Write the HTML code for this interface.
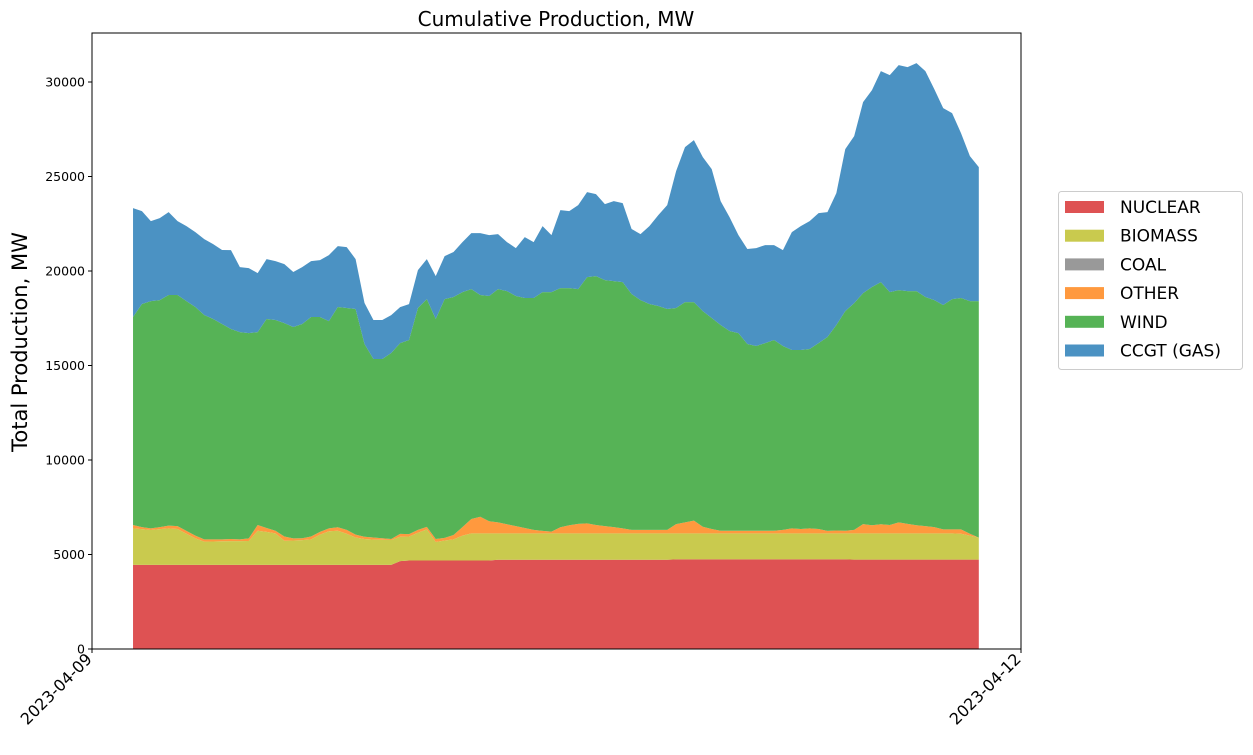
<!DOCTYPE html>
<html><head><meta charset="utf-8"><style>
body{margin:0;background:#fff;}
svg text{font-family:"DejaVu Sans","Liberation Sans",sans-serif;fill:#000;}
</style></head><body>
<svg id="chart" width="1253" height="750" xmlns="http://www.w3.org/2000/svg">
<text x="556" y="26" font-size="20" text-anchor="middle">Cumulative Production, MW</text>
<text transform="translate(27,342) rotate(-90)" font-size="21" text-anchor="middle">Total Production, MW</text>
<g id="areas"></g>
<rect x="92" y="33" width="929" height="616" fill="none" stroke="#000" stroke-width="1"/>
<g id="yticks"></g>
<g id="xticks"></g>
<g>
<rect x="1058.5" y="191.5" width="184" height="178" rx="3" fill="#fff" stroke="#ccc"/>
<g id="legend-items"></g>
</g>
</svg>
<script>
const seriesNames=["NUCLEAR","BIOMASS","COAL","OTHER","WIND","CCGT (GAS)"];
const seriesColors=["#de5253","#c9ca4e","#999999","#ff993e","#56b356","#4b92c3"];
const yTicks=[0,5000,10000,15000,20000,25000,30000];
const xTickLabels=["2023-04-09","2023-04-12"];
const xTickHours=[0,72];
const startHour=3.18, stepHour=0.69;
const nuclear=[4450,4450,4450,4450,4450,4450,4450,4450,4450,4450,4450,4450,4450,4450,4450,4450,4450,4450,4450,4450,4450,4450,4450,4450,4450,4450,4450,4450,4450,4450,4650,4680,4680,4680,4680,4680,4680,4680,4680,4680,4680,4720,4720,4720,4720,4720,4720,4720,4720,4720,4720,4720,4720,4720,4720,4720,4720,4720,4720,4720,4720,4740,4740,4740,4740,4740,4740,4740,4740,4740,4740,4740,4740,4740,4740,4740,4740,4740,4740,4740,4740,4730,4730,4730,4730,4730,4730,4730,4730,4730,4730,4730,4730,4730,4730,4730];
const biomass=[1935,1890,1846,1890,1935,1900,1650,1400,1230,1240,1250,1260,1260,1265,1810,1750,1670,1280,1290,1310,1350,1600,1780,1810,1650,1450,1370,1340,1330,1320,1290,1270,1470,1650,980,1060,1120,1320,1440,1440,1440,1400,1400,1400,1400,1400,1400,1400,1400,1400,1400,1400,1400,1400,1400,1400,1400,1400,1400,1400,1400,1380,1380,1380,1380,1380,1380,1380,1380,1380,1380,1380,1380,1380,1380,1380,1380,1380,1380,1380,1380,1390,1390,1390,1390,1390,1390,1390,1390,1390,1390,1390,1390,1370,1270,1160];
const coal=[0,0,0,0,0,0,0,0,0,0,0,0,0,0,0,0,0,0,0,0,0,0,0,0,0,0,0,0,0,0,0,0,0,0,0,0,0,0,0,0,0,0,0,0,0,0,0,0,0,0,0,0,0,0,0,0,0,0,0,0,0,0,0,0,0,0,0,0,0,0,0,0,0,0,0,0,0,0,0,0,0,0,0,0,0,0,0,0,0,0,0,0,0,0,0,0];
const other=[175,110,89,110,145,150,150,150,120,110,100,110,90,135,300,200,140,220,110,100,150,150,150,180,200,150,120,110,80,50,150,130,150,130,160,140,230,450,760,880,640,580,480,380,280,180,130,90,320,430,500,530,440,380,330,260,180,180,180,180,180,490,580,670,350,230,140,140,140,140,140,140,140,180,260,230,260,230,130,150,140,180,490,430,480,440,580,500,430,380,330,210,210,230,100,0];
const wind=[11003,11801,12024,12012,12197,12227,12159,12092,11869,11657,11393,11108,10969,10866,10209,11057,11144,11295,11184,11333,11613,11363,10971,11652,11739,11936,10195,9441,9481,9838,10097,10266,11739,12055,11637,12635,12591,12435,12164,11727,11914,12344,12338,12174,12168,12268,12635,12675,12657,12547,12424,13029,13172,13020,13017,13034,12480,12162,11951,11845,11686,11429,11656,11566,11410,11160,10880,10562,10456,9875,9769,9927,10086,9729,9437,9467,9490,9837,10255,10870,11620,12003,12222,12600,12814,12325,12291,12318,12388,12121,12012,11868,12185,12238,12309,12519];
const gas=[5766,4920,4232,4338,4391,3915,3968,3968,4020,3968,3915,4179,3439,3439,3121,3174,3121,3121,2910,3015,2962,3015,3491,3227,3227,2645,2169,2063,2063,2010,1904,1904,2010,2116,2275,2275,2381,2645,2962,3280,3227,2910,2592,2539,3227,2962,3491,3015,4126,4073,4444,4497,4338,4020,4232,4179,3439,3491,4126,4814,5502,7247,8200,8570,8147,7882,6560,6031,5184,5026,5184,5184,5026,5078,6242,6560,6771,6877,6613,6983,8570,8834,10104,10421,11162,11479,11903,11850,12061,11955,11162,10421,9839,8729,7671,7089];

const NS="http://www.w3.org/2000/svg";
const X0=92,X1=1021,Y0=649,YTOP=33;
const xScale=h=>X0+(h-0)/(72-0)*(X1-X0);
const yScale=v=>Y0-v*(567/30000);
function mk(tag,attrs){const e=document.createElementNS(NS,tag);for(const k in attrs)e.setAttribute(k,attrs[k]);return e;}
const series=[nuclear,biomass,coal,other,wind,gas];
const n=nuclear.length;
const hours=[];for(let i=0;i<n;i++)hours.push(startHour+i*stepHour);
const areas=document.getElementById('areas');
let base=new Array(n).fill(0);
series.forEach((s,si)=>{
  const top=base.map((b,i)=>b+s[i]);
  let d="";
  for(let i=0;i<n;i++)d+=(i?"L":"M")+xScale(hours[i]).toFixed(2)+","+yScale(top[i]).toFixed(2);
  for(let i=n-1;i>=0;i--)d+="L"+xScale(hours[i]).toFixed(2)+","+yScale(base[i]).toFixed(2);
  d+="Z";
  const p=mk('path',{d:d,fill:seriesColors[si]});
  
  
  areas.appendChild(p);
  base=top;
});
const yt=document.getElementById('yticks');
yTicks.forEach(v=>{
  const y=yScale(v);
  const l=mk('line',{x1:X0-4,x2:X0,y1:y,y2:y,stroke:'#000'});
  
  
  yt.appendChild(l);
  const t=mk('text',{x:X0-7,y:y+4.5,'font-size':'12.5','text-anchor':'end'});
  
  
  t.textContent=v;yt.appendChild(t);
});
const xt=document.getElementById('xticks');
xTickLabels.forEach((lab,i)=>{
  const x=xScale(xTickHours[i]);
  const l=mk('line',{x1:x,x2:x,y1:Y0,y2:Y0+4,stroke:'#000'});
  
  
  xt.appendChild(l);
  const t=mk('text',{transform:`translate(${x+1},${Y0+11}) rotate(-45)`,'font-size':'16','text-anchor':'end'});
  
  
  t.textContent=lab;xt.appendChild(t);
});
const lg=document.getElementById('legend-items');
seriesNames.forEach((nm,i)=>{
  const y=207+i*28.7;
  const r=mk('rect',{x:1065,y:y-6,width:39,height:12,fill:seriesColors[i]});
  
  
  lg.appendChild(r);
  const t=mk('text',{x:1120,y:y+6,'font-size':'17'});
  
  
  t.textContent=nm;lg.appendChild(t);
});
</script>
</body></html>
